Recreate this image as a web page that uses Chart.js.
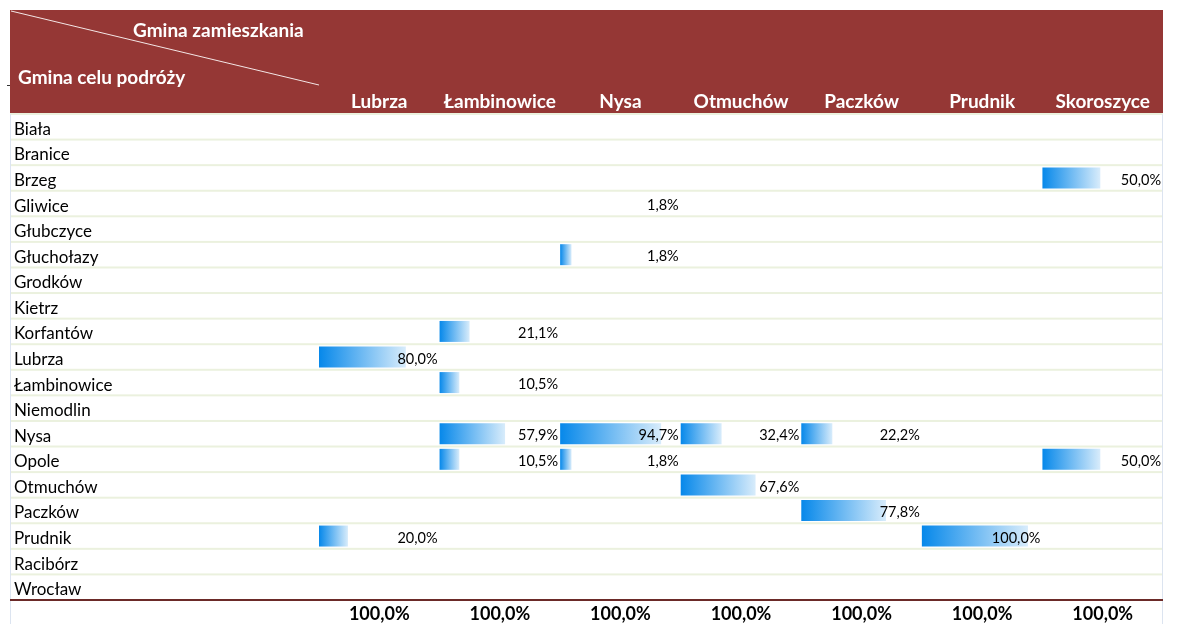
<!DOCTYPE html>
<html>
<head>
<meta charset="utf-8">
<script src="https://cdn.jsdelivr.net/npm/chart.js@4"></script>
<style>
  html, body { margin: 0; padding: 0; background: #fff; }
  #wrap { width: 1182px; height: 624px; position: relative; }
</style>
</head>
<body>
<div id="wrap"><canvas id="tbl"></canvas></div>
<script>
// Gmina celu podróży (rows) x Gmina zamieszkania (columns), values in %
const rows = ["Biała", "Branice", "Brzeg", "Gliwice", "Głubczyce", "Głuchołazy", "Grodków", "Kietrz",
  "Korfantów", "Lubrza", "Łambinowice", "Niemodlin", "Nysa", "Opole", "Otmuchów", "Paczków",
  "Prudnik", "Racibórz", "Wrocław"];
const columns = ["Lubrza", "Łambinowice", "Nysa", "Otmuchów", "Paczków", "Prudnik", "Skoroszyce"];

const lubrza      = [null, null, null, null, null, null, null, null, null, 80.0, null, null, null, null, null, null, 20.0, null, null];
const lambinowice = [null, null, null, null, null, null, null, null, 21.1, null, 10.5, null, 57.9, 10.5, null, null, null, null, null];
const nysa        = [null, null, null, 1.8, null, 1.8, null, null, null, null, null, null, 94.7, 1.8, null, null, null, null, null];
const otmuchow    = [null, null, null, null, null, null, null, null, null, null, null, null, 32.4, null, 67.6, null, null, null, null];
const paczkow     = [null, null, null, null, null, null, null, null, null, null, null, null, 22.2, null, null, 77.8, null, null, null];
const prudnik     = [null, null, null, null, null, null, null, null, null, null, null, null, null, null, null, null, 100.0, null, null];
const skoroszyce  = [null, null, 50.0, null, null, null, null, null, null, null, null, null, null, 50.0, null, null, null, null, null];
const totals = [100.0, 100.0, 100.0, 100.0, 100.0, 100.0, 100.0];

// cells that show a number but no data bar (column, row)
const noBar = [[2, 3]];

const series = [lubrza, lambinowice, nysa, otmuchow, paczkow, prudnik, skoroszyce];

const fmt = v => v.toFixed(1).replace(".", ",") + "%";
const FONT = "Lato, 'Open Sans', sans-serif";

// excel-like data bar: short minimum length plus a part proportional to the value
function barRange(col, v) {
  return [col, col + 0.08 + 0.8 * v / 100];
}

const datasets = series.map((vals, c) => ({
  label: columns[c],
  data: vals.map((v, r) => {
    if (v == null) return null;
    if (noBar.some(p => p[0] === c && p[1] === r)) return null;
    return barRange(c, v);
  }),
  backgroundColor: ctx => {
    const chart = ctx.chart;
    const raw = ctx.raw;
    if (!chart.chartArea || !raw) return "#0a8ce8";
    const x = chart.scales.x;
    const x0 = x.getPixelForValue(raw[0]);
    const x1 = x.getPixelForValue(raw[1]);
    const g = chart.ctx.createLinearGradient(x0, 0, x1, 0);
    g.addColorStop(0, "#0688ea");
    g.addColorStop(1, "#d8ecfb");
    return g;
  },
  borderWidth: 0,
  grouped: false,
  barPercentage: 0.82,
  categoryPercentage: 1
}));

const tablePlugin = {
  id: "tablePlugin",
  beforeDatasetsDraw(chart) {
    const { ctx, chartArea } = chart;
    const left = 10, right = 1163;
    ctx.save();
    // header band
    ctx.fillStyle = "#953735";
    ctx.fillRect(left, 10, right - left, chartArea.top - 11);
    // diagonal
    ctx.strokeStyle = "#f4e6e6";
    ctx.lineWidth = 1;
    ctx.beginPath();
    ctx.moveTo(left + 1, 11);
    ctx.lineTo(chartArea.left, 85);
    ctx.stroke();
    ctx.strokeStyle = "#333";
    ctx.beginPath();
    ctx.moveTo(7, 85.5);
    ctx.lineTo(10, 85.5);
    ctx.stroke();

    // row separators
    const pitch = (chartArea.bottom - chartArea.top) / rows.length;
    ctx.fillStyle = "#ebf1de";
    for (let i = 0; i < rows.length; i++) {
      const yy = chartArea.top + i * pitch;
      ctx.fillRect(left, yy - 1, right - left, 2);
    }
    // side borders
    ctx.fillStyle = "#dce4f0";
    ctx.fillRect(left, chartArea.top, 1, 624 - chartArea.top);
    ctx.fillRect(right - 1, chartArea.top, 1, 624 - chartArea.top);
    ctx.restore();
  },
  afterDatasetsDraw(chart) {
    const { ctx, chartArea, scales } = chart;
    const x = scales.x, y = scales.y;
    ctx.save();
    // header texts
    ctx.fillStyle = "#ffffff";
    ctx.font = "bold 19px " + FONT;
    ctx.textBaseline = "middle";
    ctx.textAlign = "left";
    ctx.fillText("Gmina zamieszkania", 133, 31);
    ctx.fillText("Gmina celu podróży", 18, 78);
    ctx.textAlign = "center";
    columns.forEach((c, i) => {
      ctx.fillText(c, x.getPixelForValue(i + 0.5), 102);
    });

    // row labels
    ctx.fillStyle = "#000";
    ctx.font = "17px " + FONT;
    ctx.textAlign = "left";
    rows.forEach((r, i) => {
      ctx.fillText(r, 14, y.getPixelForValue(i) + 2.5);
    });

    // cell values
    ctx.font = "14.5px " + FONT;
    ctx.textAlign = "right";
    series.forEach((vals, c) => {
      vals.forEach((v, r) => {
        if (v == null) return;
        ctx.fillText(fmt(v), x.getPixelForValue(c + 1) - 2, y.getPixelForValue(r) + 2);
      });
    });

    // bottom rule and totals
    ctx.fillStyle = "#6b2a28";
    ctx.fillRect(10, chartArea.bottom - 1, 1153, 2);
    ctx.fillStyle = "#000";
    ctx.font = "bold 18px " + FONT;
    ctx.textAlign = "center";
    totals.forEach((t, i) => {
      ctx.fillText(fmt(t), x.getPixelForValue(i + 0.5), 614);
    });
    ctx.restore();
  }
};

new Chart(document.getElementById("tbl"), {
  type: "bar",
  data: { labels: rows, datasets: datasets },
  options: {
    indexAxis: "y",
    responsive: true,
    maintainAspectRatio: false,
    animation: false,
    layout: { padding: { left: 319, right: 19, top: 114, bottom: 24 } },
    scales: {
      x: { type: "linear", min: 0, max: columns.length, display: false },
      y: { type: "category", display: false, offset: true }
    },
    plugins: {
      legend: { display: false },
      tooltip: { enabled: false }
    }
  },
  plugins: [tablePlugin]
});
</script>
</body>
</html>
